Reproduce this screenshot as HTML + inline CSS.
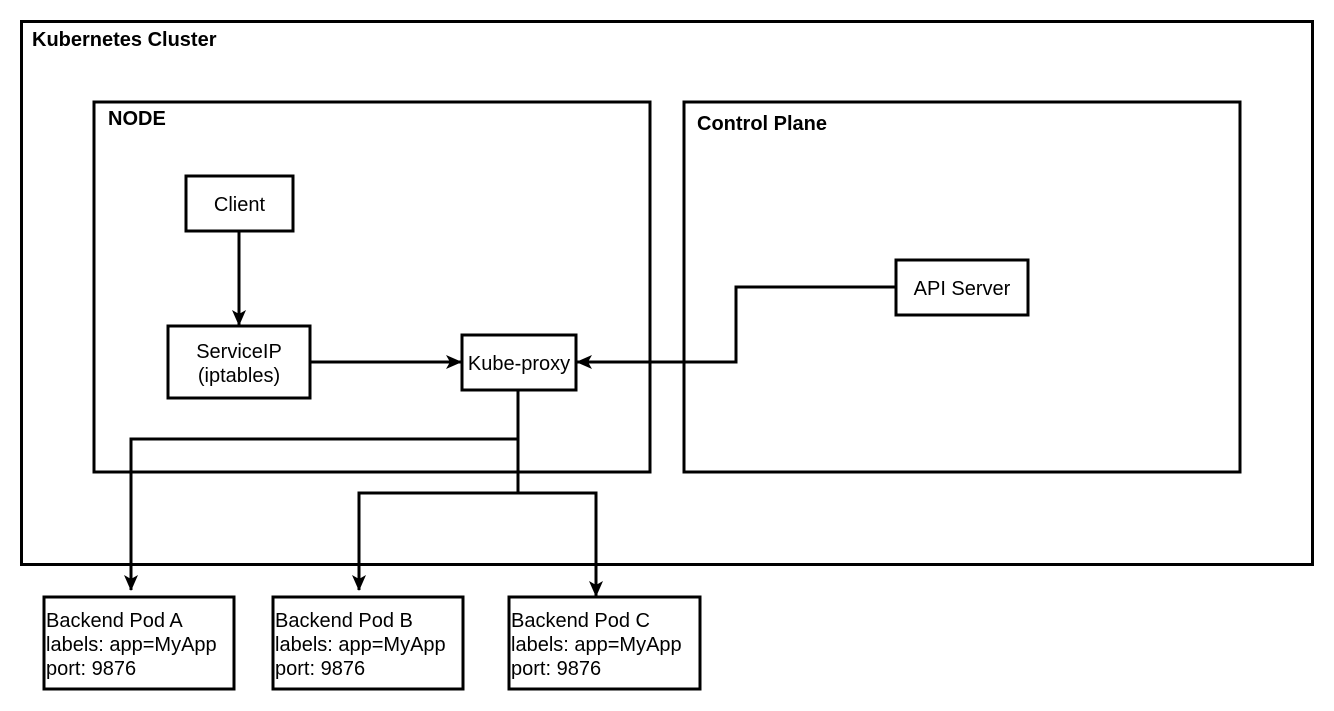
<!DOCTYPE html>
<html><head><meta charset="utf-8"><style>
html,body{margin:0;padding:0;background:#fff;}
svg{display:block;}
text{font-family:"Liberation Sans",Arial,sans-serif;font-size:20px;fill:#000;}
.b{font-weight:bold;}
</style></head><body>
<svg width="1334" height="711" viewBox="0 0 1334 711" xmlns="http://www.w3.org/2000/svg">
<defs>
<marker id="a" markerWidth="10" markerHeight="10" refX="9" refY="5" orient="auto" markerUnits="userSpaceOnUse">
<path d="M0,0 L10,5 L0,10 L3,5 Z" fill="#000"/>
</marker>
<marker id="a2" viewBox="0 0 16 14" markerWidth="16" markerHeight="14" refX="15" refY="7" orient="auto" markerUnits="userSpaceOnUse">
<path d="M0,0 L16,7 L0,14 L4,7 Z" fill="#000"/>
</marker>
</defs>
<g fill="none" stroke="#000" stroke-width="3">
<rect x="21.5" y="21.5" width="1291" height="543"/>
<rect x="94" y="102" width="556" height="370"/>
<rect x="684" y="102" width="556" height="370"/>
<rect x="186" y="176" width="107" height="55"/>
<rect x="168" y="326" width="142" height="72"/>
<rect x="462" y="335" width="114" height="55"/>
<rect x="896" y="260" width="132" height="55"/>
<rect x="44" y="597" width="190" height="92"/>
<rect x="273" y="597" width="190" height="92"/>
<rect x="509" y="597" width="191" height="92"/>
</g>
<g fill="none" stroke="#000" stroke-width="3">
<path d="M239,231 V325" marker-end="url(#a2)"/>
<path d="M310,362 H461" marker-end="url(#a2)"/>
<path d="M896,287 H736 V362 H577" marker-end="url(#a2)"/>
<path d="M518,390 V439 H131 V590" marker-end="url(#a2)"/>
<path d="M518,439 V493 H359 V590" marker-end="url(#a2)"/>
<path d="M518,493 H596 V596" marker-end="url(#a2)"/>
</g>
<text x="32" y="46" class="b">Kubernetes Cluster</text>
<text x="108" y="125" class="b">NODE</text>
<text x="697" y="130" class="b">Control Plane</text>
<text x="239.5" y="211" text-anchor="middle">Client</text>
<text x="239" y="358" text-anchor="middle">ServiceIP</text>
<text x="239" y="382" text-anchor="middle">(iptables)</text>
<text x="519" y="370" text-anchor="middle">Kube-proxy</text>
<text x="962" y="295" text-anchor="middle">API Server</text>
<text x="46" y="627">Backend Pod A</text>
<text x="46" y="651">labels: app=MyApp</text>
<text x="46" y="675">port: 9876</text>
<text x="275" y="627">Backend Pod B</text>
<text x="275" y="651">labels: app=MyApp</text>
<text x="275" y="675">port: 9876</text>
<text x="511" y="627">Backend Pod C</text>
<text x="511" y="651">labels: app=MyApp</text>
<text x="511" y="675">port: 9876</text>
</svg>
</body></html>
